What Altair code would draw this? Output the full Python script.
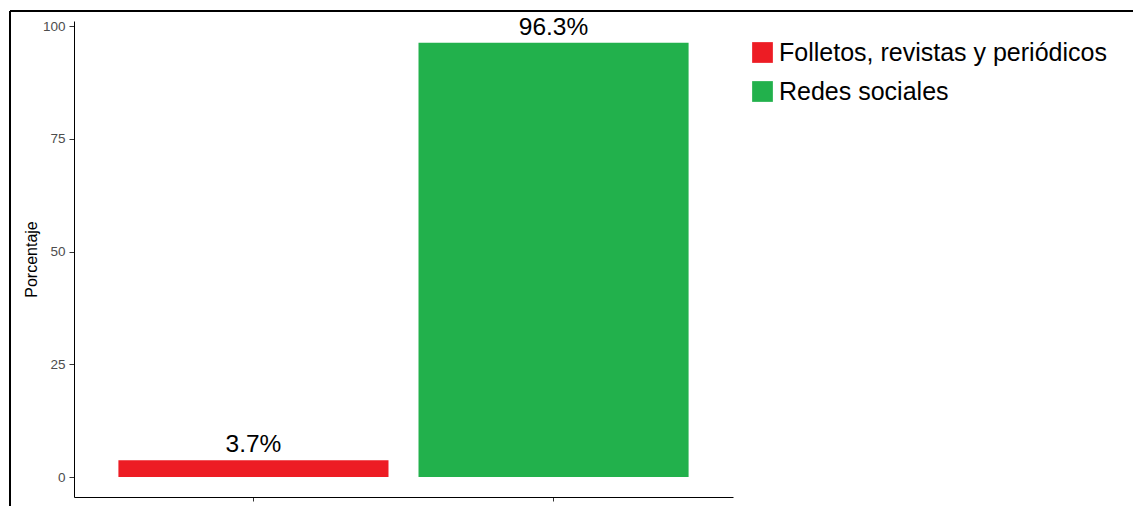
import altair as alt
import pandas as pd

categorias = ["Folletos, revistas y periódicos", "Redes sociales"]
porcentajes = [3.7, 96.3]
etiquetas = ["3.7%", "96.3%"]
colores = ["#ED1C24", "#22B14C"]
y_ticks = [0, 25, 50, 75, 100]

df = pd.DataFrame({"cat": categorias, "pct": porcentajes, "lab": etiquetas})

FONT = "Liberation Sans"

x_enc = alt.X("cat:N", sort=categorias,
              scale=alt.Scale(paddingInner=0.1, paddingOuter=0.148),
              axis=alt.Axis(title=None, labels=False, ticks=True, tickSize=4,
                            tickColor="#333333", domainColor="#000000",
                            domainWidth=1, grid=False))
y_scale = alt.Scale(domain=[-4.43, 101.115], nice=False, zero=False)

bars = alt.Chart(df).mark_bar().encode(
    x=x_enc,
    y=alt.Y("pct:Q", scale=y_scale,
            axis=alt.Axis(title="Porcentaje", values=y_ticks, tickSize=5,
                          tickColor="#333333", domainColor="#000000",
                          labelColor="#4D4D4D", labelFontSize=13.5, labelFont=FONT,
                          labelPadding=4, titleFont=FONT, titleFontSize=16,
                          titleFontWeight="normal", titleColor="#000000",
                          titlePadding=3, grid=False)),
    y2=alt.datum(0),
    color=alt.Color("cat:N", sort=categorias,
                    scale=alt.Scale(domain=categorias, range=colores),
                    legend=alt.Legend(title=None, orient="none", legendX=676,
                                      legendY=19, symbolType="square",
                                      symbolSize=430, symbolStrokeWidth=0,
                                      labelFontSize=25, labelFont=FONT,
                                      labelColor="#000000", rowPadding=13,
                                      labelOffset=4, labelLimit=450)),
)

texts = alt.Chart(df).mark_text(fontSize=24.5, font=FONT, color="#000000",
                                baseline="alphabetic", dy=-8).encode(
    x=alt.X("cat:N", sort=categorias),
    y=alt.Y("pct:Q", scale=y_scale),
    text="lab:N",
)

frame_top = alt.Chart(df).mark_rule(color="#000000", strokeWidth=2).encode(
    x=alt.value(-64), x2=alt.value(1100), y=alt.value(-10))
frame_left = alt.Chart(df).mark_rule(color="#000000", strokeWidth=2).encode(
    x=alt.value(-64), y=alt.value(-10), y2=alt.value(500))

chart = alt.layer(bars, texts, frame_top, frame_left).properties(
    width=659, height=476,
    autosize=alt.AutoSizeParams(type="none"),
    padding={"left": 74, "top": 21, "right": 400, "bottom": 9},
    background="#FFFFFF",
).configure_view(stroke=None)

chart.save("out.html", embed_options={"renderer": "svg", "actions": False})
